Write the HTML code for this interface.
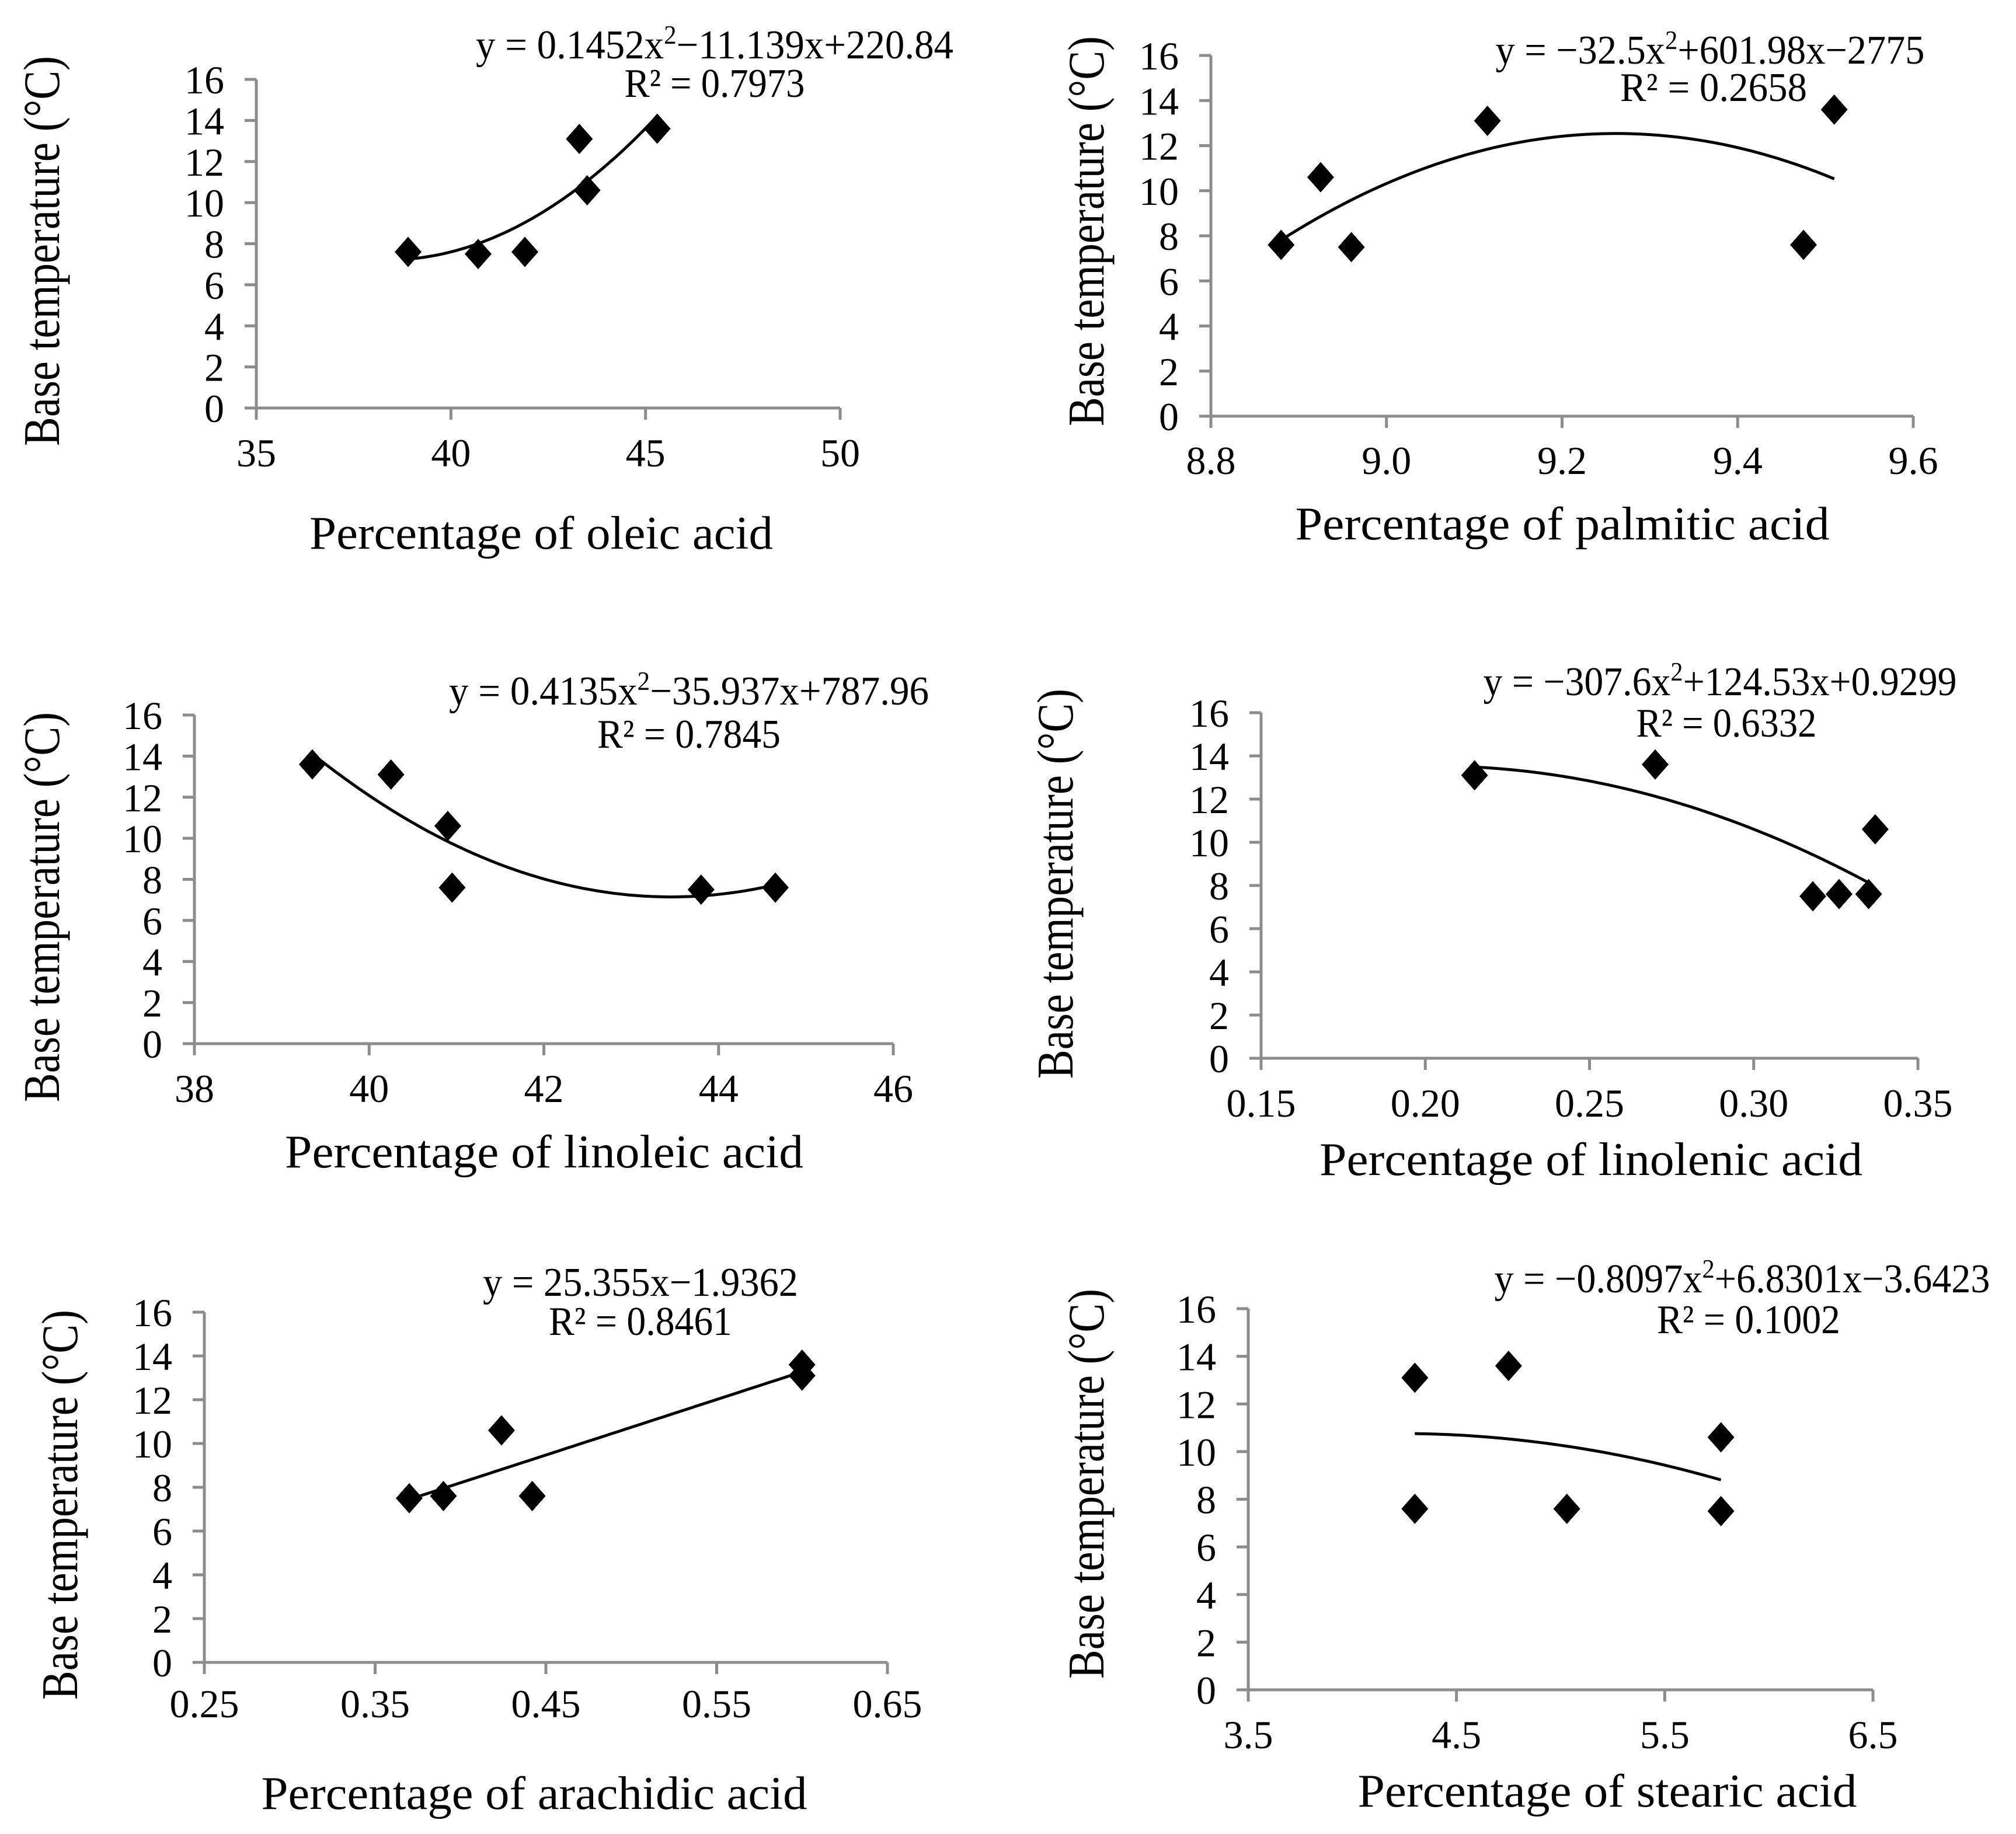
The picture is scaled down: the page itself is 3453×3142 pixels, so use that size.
<!DOCTYPE html>
<html><head><meta charset="utf-8"><style>
html,body{margin:0;padding:0;background:#fff;}
svg{display:block;}
text{font-family:"Liberation Serif",serif;fill:#000;}
</style></head><body>
<svg id="fig" xmlns="http://www.w3.org/2000/svg" width="3453" height="3142" viewBox="0 0 3453 3142"></svg>
<script>
// ---- data: oleic ----
const oleicX = [38.9, 40.7, 41.9, 43.3, 43.5, 45.3];
const oleicY = [7.6, 7.5, 7.6, 13.1, 10.6, 13.6];
const oleicCoef = [0.1452, -11.139, 220.84];
const oleicTicks = [35, 40, 45, 50];
// ---- data: palmitic ----
const palmX = [8.88, 8.925, 8.96, 9.115, 9.475, 9.51];
const palmY = [7.6, 10.6, 7.5, 13.1, 7.6, 13.6];
const palmCoef = [-32.5, 601.98, -2775];
const palmTicks = ["8.8", "9.0", "9.2", "9.4", "9.6"];
// ---- data: linoleic ----
const linX = [39.35, 40.25, 40.9, 40.95, 43.8, 44.65];
const linY = [13.6, 13.1, 10.6, 7.6, 7.5, 7.6];
const linCoef = [0.4135, -35.937, 787.96];
const linTicks = [38, 40, 42, 44, 46];
// ---- data: linolenic ----
const lnnX = [0.215, 0.27, 0.318, 0.326, 0.335, 0.337];
const lnnY = [13.1, 13.6, 7.5, 7.6, 7.6, 10.6];
const lnnCoef = [-307.6, 124.53, 0.9299];
const lnnTicks = ["0.15", "0.20", "0.25", "0.30", "0.35"];
// ---- data: arachidic ----
const araX = [0.37, 0.39, 0.424, 0.442, 0.60, 0.60];
const araY = [7.5, 7.6, 10.6, 7.6, 13.6, 13.1];
const araCoef = [0, 25.355, -1.9362];
const araTicks = ["0.25", "0.35", "0.45", "0.55", "0.65"];
// ---- data: stearic ----
const steX = [4.3, 4.75, 4.3, 5.03, 5.77, 5.77];
const steY = [13.1, 13.6, 7.6, 7.6, 10.6, 7.5];
const steCoef = [-0.8097, 6.8301, -3.6423];
const steTicks = ["3.5", "4.5", "5.5", "6.5"];
const yTicks = [0, 2, 4, 6, 8, 10, 12, 14, 16];

const panels = [
 {id:'oleic', xs:oleicX, ys:oleicY, coef:oleicCoef, ticks:oleicTicks, fit:[38.9,45.3],
  px0:439, px1:1439, py0:699, py16:136, eq:['0.1452x','2','−11.139x+220.84'], r2:'0.7973', eqw:818, r2w:309,
  eqx:1224, eqy:100, r2x:1224, r2y:166, tickY:799, title:'Percentage of oleic acid', tx:927, ty:940, tlen:794, yx:101, yc:430},
 {id:'palmitic', xs:palmX, ys:palmY, coef:palmCoef, ticks:palmTicks, fit:[8.88,9.51],
  px0:2074, px1:3277, py0:713, py16:95, eq:['−32.5x','2','+601.98x−2775'], r2:'0.2658', eqw:735, r2w:320,
  eqx:2929, eqy:109, r2x:2935, r2y:173, tickY:812, title:'Percentage of palmitic acid', tx:2676, ty:924, tlen:915, yx:1890, yc:396},
 {id:'linoleic', xs:linX, ys:linY, coef:linCoef, ticks:linTicks, fit:[39.35,44.65],
  px0:333, px1:1530, py0:1788, py16:1225, eq:['0.4135x','2','−35.937x+787.96'], r2:'0.7845', eqw:822, r2w:314,
  eqx:1180, eqy:1207, r2x:1180, r2y:1281, tickY:1888, title:'Percentage of linoleic acid', tx:932, ty:2000, tlen:888, yx:101, yc:1554},
 {id:'linolenic', xs:lnnX, ys:lnnY, coef:lnnCoef, ticks:lnnTicks, fit:[0.215,0.335],
  px0:2160, px1:3285, py0:1813, py16:1221, eq:['−307.6x','2','+124.53x+0.9299'], r2:'0.6332', eqw:811, r2w:309,
  eqx:2946, eqy:1191, r2x:2957, r2y:1262, tickY:1913, title:'Percentage of linolenic acid', tx:2725, ty:2013, tlen:930, yx:1837, yc:1514},
 {id:'arachidic', xs:araX, ys:araY, coef:araCoef, ticks:araTicks, fit:[0.37,0.60],
  px0:350, px1:1520, py0:2848, py16:2248, eq:['25.355x−1.9362'], r2:'0.8461', eqw:540, r2w:314,
  eqx:1097, eqy:2220, r2x:1097, r2y:2287, tickY:2942, title:'Percentage of arachidic acid', tx:915, ty:3099, tlen:935, yx:132, yc:2578},
 {id:'stearic', xs:steX, ys:steY, coef:steCoef, ticks:steTicks, fit:[4.3,5.77],
  px0:2138, px1:3208, py0:2895, py16:2242, eq:['−0.8097x','2','+6.8301x−3.6423'], r2:'0.1002', eqw:849, r2w:314,
  eqx:2984, eqy:2214, r2x:2995, r2y:2284, tickY:2995, title:'Percentage of stearic acid', tx:2753, ty:3095, tlen:855, yx:1890, yc:2542}
];

const NS = 'http://www.w3.org/2000/svg';
const svg = document.getElementById('fig');
function mk(tag, attrs, parent){
  const e = document.createElementNS(NS, tag);
  for (const k in attrs) e.setAttribute(k, attrs[k]);
  parent.appendChild(e);
  return e;
}

panels.forEach(p => {
  const g = mk('g', {}, svg);
  
  
  const t0 = parseFloat(p.ticks[0]), t1 = parseFloat(p.ticks[p.ticks.length-1]);
  const sx = v => p.px0 + (v - t0) / (t1 - t0) * (p.px1 - p.px0);
  const sy = v => p.py0 - v / 16 * (p.py0 - p.py16);

  const ax = mk('g', {stroke:'#8c8c8c', 'stroke-width':5, fill:'none'}, g);
  
  
  mk('line', {x1:p.px0, y1:p.py16, x2:p.px0, y2:p.py0+20}, ax);
  mk('line', {x1:p.px0-20, y1:p.py0, x2:p.px1, y2:p.py0}, ax);
  yTicks.forEach(v => {
    mk('line', {x1:p.px0-20, y1:sy(v), x2:p.px0, y2:sy(v)}, ax);
    const t = mk('text', {x:p.px0-55, y:sy(v)+24, 'text-anchor':'end', 'font-size':68}, g);
    t.textContent = v;
    
    
  });
  p.ticks.forEach(v => {
    const x = sx(parseFloat(v));
    mk('line', {x1:x, y1:p.py0, x2:x, y2:p.py0+20}, ax);
    const t = mk('text', {x:x, y:p.tickY, 'text-anchor':'middle', 'font-size':68}, g);
    t.textContent = v;
    
    
  });

  let d = '';
  const N = 60;
  for (let i = 0; i <= N; i++) {
    const xv = p.fit[0] + (p.fit[1]-p.fit[0]) * i / N;
    const yv = p.coef[0]*xv*xv + p.coef[1]*xv + p.coef[2];
    d += (i ? 'L' : 'M') + sx(xv).toFixed(1) + ',' + sy(yv).toFixed(1);
  }
  const tl = mk('path', {d:d, stroke:'#000', 'stroke-width':5, fill:'none'}, g);
  
  

  p.xs.forEach((xv, i) => {
    const cx = sx(xv), cy = sy(p.ys[i]);
    const m = mk('path', {d:`M${cx},${cy-26}L${cx+23},${cy}L${cx},${cy+26}L${cx-23},${cy}Z`, fill:'#000'}, g);
    
    
  });

  const eq = mk('text', {x:p.eqx, y:p.eqy, 'text-anchor':'middle', 'font-size':70, textLength:p.eqw, lengthAdjust:'spacingAndGlyphs'}, g);
  
  
  const a = mk('tspan', {}, eq); a.textContent = 'y = ' + p.eq[0];
  if (p.eq.length > 1) {
    const s = mk('tspan', {dy:-25, 'font-size':45}, eq); s.textContent = p.eq[1];
    const c = mk('tspan', {dy:25}, eq); c.textContent = p.eq[2];
  }
  const r2 = mk('text', {x:p.r2x, y:p.r2y, 'text-anchor':'middle', 'font-size':70, textLength:p.r2w, lengthAdjust:'spacingAndGlyphs'}, g);
  
  
  r2.textContent = 'R² = ' + p.r2;

  const xt = mk('text', {x:p.tx, y:p.ty, 'text-anchor':'middle', 'font-size':80, textLength:p.tlen, lengthAdjust:'spacingAndGlyphs'}, g);
  xt.textContent = p.title;
  
  
  const yt = mk('text', {x:0, y:0, 'text-anchor':'middle', 'font-size':88, textLength:668, lengthAdjust:'spacingAndGlyphs',
     transform:`translate(${p.yx},${p.yc}) rotate(-90)`}, g);
  yt.textContent = 'Base temperature (°C)';
  
  
});
</script>
</body></html>
